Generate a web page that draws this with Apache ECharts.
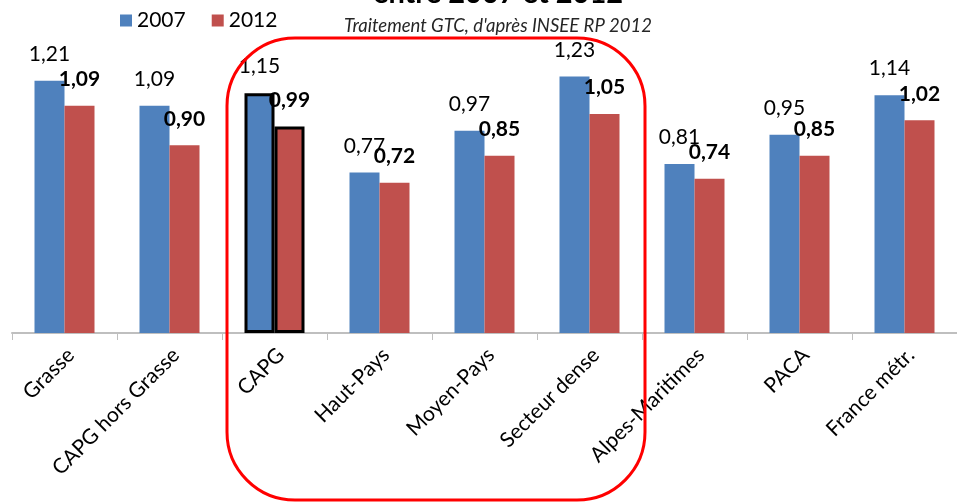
<!DOCTYPE html>
<html>
<head>
<meta charset="utf-8">
<script src="https://cdn.jsdelivr.net/npm/echarts@6/dist/echarts.min.js"></script>
<style>
  html, body { margin: 0; padding: 0; background: #fff; }
  #chart { width: 957px; height: 502px; }
</style>
</head>
<body>
<div id="chart"></div>
<script>
// Territories compared, left to right
const categories = ['Grasse', 'CAPG hors Grasse', 'CAPG', 'Haut-Pays', 'Moyen-Pays',
  'Secteur dense', 'Alpes-Maritimes', 'PACA', 'France métr.'];
// Indicator values per census year
const values2007 = [1.21, 1.09, 1.15, 0.77, 0.97, 1.23, 0.81, 0.95, 1.14];
const values2012 = [1.09, 0.90, 0.99, 0.72, 0.85, 1.05, 0.74, 0.85, 1.02];
const seriesNames = ['2007', '2012'];
// The territory drawn with an outlined pair of bars
const outlinedCategory = 'CAPG';

const FONT = 'Lato, "Open Sans", sans-serif';
const fmt = v => v.toFixed(2).replace('.', ',');

function buildData(values) {
  return values.map((v, i) => categories[i] === outlinedCategory
    ? { value: v, itemStyle: { borderColor: '#000', borderWidth: 3 } }
    : v);
}

const chart = echarts.init(document.getElementById('chart'), null, { renderer: 'canvas' });

chart.setOption({
  animation: false,
  backgroundColor: '#fff',
  textStyle: { fontFamily: FONT },
  legend: {
    data: seriesNames,
    left: 120,
    top: 10,
    padding: 0,
    icon: 'rect',
    itemWidth: 12,
    itemHeight: 12,
    itemGap: 26,
    textStyle: { fontFamily: FONT, fontSize: 21, color: '#000' }
  },
  grid: { left: 12, width: 957, top: 41, bottom: 169, containLabel: false },
  xAxis: {
    type: 'category',
    data: categories,
    boundaryGap: true,
    axisLine: { lineStyle: { color: '#bfbfbf', width: 2 } },
    axisTick: { show: true, length: 7, lineStyle: { color: '#bfbfbf', width: 1 } },
    axisLabel: {
      interval: 0,
      rotate: 45,
      margin: 25,
      padding: [0, -9, 0, 0],
      fontFamily: FONT,
      fontSize: 21,
      color: '#000'
    }
  },
  yAxis: {
    type: 'value',
    min: 0,
    max: 1.4,
    show: false,
    splitLine: { show: false }
  },
  series: [
    {
      name: seriesNames[0],
      type: 'bar',
      data: buildData(values2007),
      barWidth: 30,
      barGap: '0%',
      itemStyle: { color: '#4f81bd' },
      label: {
        show: true,
        position: 'top',
        distance: 16,
        formatter: p => fmt(p.value),
        fontFamily: FONT,
        fontSize: 21,
        color: '#000'
      }
    },
    {
      name: seriesNames[1],
      type: 'bar',
      data: buildData(values2012),
      barWidth: 30,
      barGap: '0%',
      itemStyle: { color: '#c0504d' },
      label: {
        show: true,
        position: 'top',
        distance: 16,
        formatter: p => fmt(p.value),
        fontFamily: FONT,
        fontSize: 21,
        fontWeight: 'bold',
        color: '#000'
      }
    }
  ],
  graphic: [
    {
      type: 'text',
      style: {
        text: 'entre 2007 et 2012',
        x: 498, y: -6,
        align: 'center', verticalAlign: 'middle',
        font: 'bold 29px ' + FONT,
        fill: '#000'
      }
    },
    {
      type: 'text',
      style: {
        text: "Traitement GTC, d'après INSEE RP 2012",
        x: 498, y: 26,
        align: 'center', verticalAlign: 'middle',
        font: 'italic 18.5px ' + FONT,
        fill: '#262626'
      }
    },
    {
      // highlight frame around the CAPG group
      type: 'rect',
      shape: { x: 227, y: 38, width: 418, height: 462, r: 68 },
      style: { fill: 'none', stroke: '#ff0000', lineWidth: 3 },
      z: 100
    }
  ]
});
</script>
</body>
</html>
